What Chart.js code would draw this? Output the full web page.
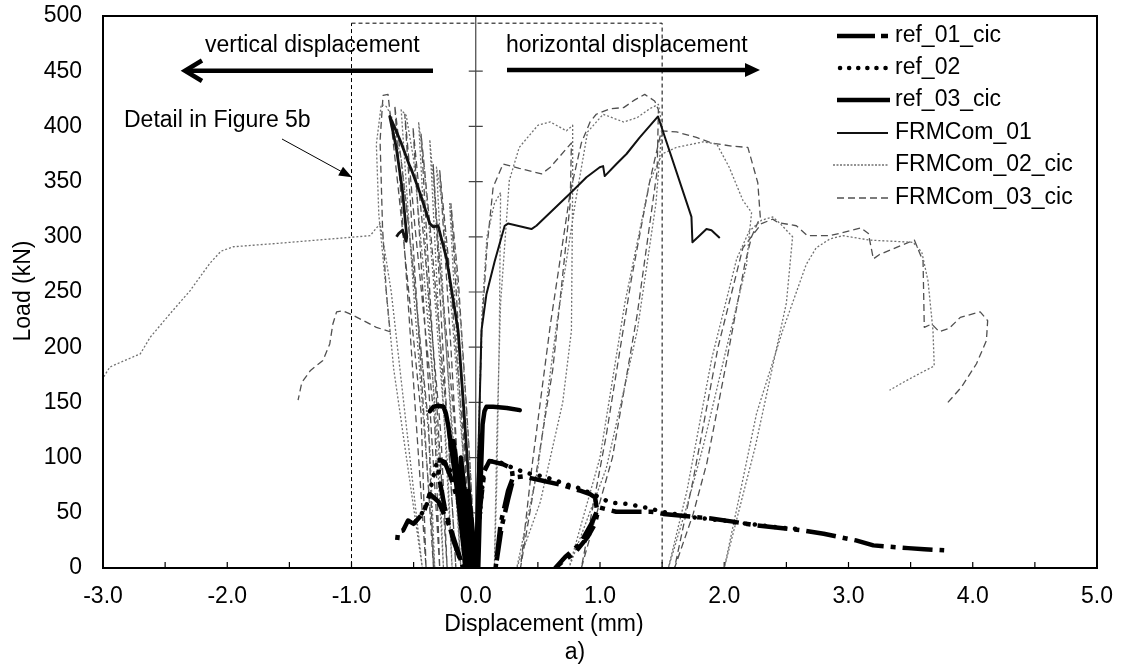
<!DOCTYPE html>
<html>
<head>
<meta charset="utf-8">
<script src="https://cdn.jsdelivr.net/npm/chart.js@4.4.1/dist/chart.umd.min.js"></script>
<style>
  html, body { margin: 0; padding: 0; background: #fff; }
  #wrap { width: 1121px; height: 668px; }
</style>
</head>
<body>
<div id="wrap"><canvas id="loadChart" width="1121" height="668"></canvas></div>
<script>
// tick labels
var xTickLabels = ['-3.0', '-2.0', '-1.0', '0.0', '1.0', '2.0', '3.0', '4.0', '5.0'];
var seriesNames = ['ref_01_cic', 'ref_02', 'ref_03_cic', 'FRMCom_01', 'FRMCom_02_cic', 'FRMCom_03_cic'];

// [displacement mm, load kN] -- vertical displacement is plotted negative
var ref01Vert = [[0,0],[-0.06,40],[-0.12,70],[-0.08,40],[-0.03,0],[-0.1,45],[-0.2,82],[-0.25,96],[-0.29,98],[-0.3,85],[-0.25,55],[-0.18,25],[-0.1,0],[-0.2,35],[-0.3,60],[-0.37,67],[-0.42,50],[-0.5,40],[-0.545,43],[-0.585,34],[-0.625,33],[-0.638,19]];
var ref01Horiz = [[0,0],[0.03,50],[0.07,88],[0.11,97],[0.22,94],[0.29,90],[0.3,80],[0.26,62],[0.21,38],[0.16,0],[0.2,40],[0.26,70],[0.3,82],[0.38,83],[0.54,79],[0.7,75],[0.84,70],[0.92,67],[0.96,64],[0.98,50],[0.96,40],[0.9,28],[0.8,14],[0.7,6],[0.64,0],[0.72,10],[0.84,22],[0.93,40],[0.99,55],[1.13,51],[1.41,51],[1.51,49],[1.88,45],[2.07,42],[2.23,39],[2.63,34],[2.8,31],[3.06,25],[3.2,20.5],[3.48,18],[3.61,17],[3.77,16]];

var ref02Vert = [[0,0],[-0.08,40],[-0.16,75],[-0.22,92],[-0.29,97],[-0.316,94],[-0.343,82],[-0.356,76],[-0.37,67],[-0.384,60],[-0.424,51],[-0.464,45],[-0.5,40]];
var ref02Horiz = [[0,0],[0.03,45],[0.06,82],[0.09,95],[0.11,97],[0.22,95],[0.29,91],[0.41,86],[0.5,84],[0.6,81],[0.7,77],[0.84,72],[0.96,66],[1.03,62],[1.1,59],[1.22,58],[1.31,56],[1.4,54],[1.5,51],[1.6,49],[1.75,46],[1.9,44],[2.0,43],[2.1,41],[2.2,40],[2.35,38],[2.5,36],[2.65,35]];

var ref03Vert = [[0,0],[-0.03,40],[-0.06,70],[-0.04,35],[-0.02,0],[-0.07,50],[-0.12,100],[-0.09,50],[-0.05,0],[-0.11,60],[-0.18,115],[-0.14,60],[-0.08,0],[-0.15,70],[-0.22,128],[-0.24,140],[-0.26,146],[-0.3,147],[-0.34,146],[-0.37,142]];
var ref03Horiz = [[0,0],[0.02,60],[0.035,110],[0.025,60],[0.01,0],[0.03,70],[0.045,120],[0.035,70],[0.02,0],[0.04,80],[0.055,130],[0.07,142],[0.086,146],[0.14,146],[0.25,145],[0.354,143]];

var frm01Vert = [[0,0],[-0.03,40],[-0.06,85],[-0.1,150],[-0.142,215],[-0.236,281],[-0.303,310],[-0.343,309],[-0.37,312],[-0.45,340],[-0.518,361],[-0.531,364],[-0.6,385],[-0.652,399],[-0.692,409],[-0.64,381],[-0.59,342],[-0.555,300],[-0.56,296],[-0.59,306],[-0.62,303],[-0.638,300]];
var frm01Horiz = [[0,0],[0.01,50],[0.025,120],[0.046,215],[0.086,248],[0.153,278],[0.233,310],[0.26,312],[0.448,307],[0.488,310],[0.757,339],[0.891,354],[0.998,363],[1.025,364],[1.038,355],[1.132,366],[1.213,375],[1.32,390],[1.467,409],[1.736,318],[1.744,295],[1.8,301],[1.857,307],[1.897,306],[1.964,299]];

var frm02Vert = [[0,0],[-0.05,100],[-0.12,220],[-0.18,300],[-0.21,330],[-0.14,180],[-0.05,0],
  [-0.1,100],[-0.2,240],[-0.27,330],[-0.316,363],[-0.25,220],[-0.12,0],
  [-0.17,100],[-0.28,260],[-0.34,350],[-0.37,388],[-0.3,230],[-0.19,0],
  [-0.23,100],[-0.34,260],[-0.42,370],[-0.46,404],[-0.38,240],[-0.26,0],
  [-0.3,110],[-0.42,270],[-0.5,370],[-0.56,410],[-0.6,415],[-0.5,250],[-0.33,0],
  [-0.37,110],[-0.5,270],[-0.6,370],[-0.68,410],[-0.72,418],[-0.76,420],[-0.8,384],[-0.78,320],[-0.66,180],[-0.43,0],
  [-0.55,120],[-0.68,250],[-0.75,300],[-0.77,312],[-0.85,301],[-1.28,297],[-1.6,294],[-1.95,291],[-2.05,287],[-2.14,276],[-2.3,251],[-2.44,233],[-2.62,209],[-2.7,194],[-2.865,186],[-2.945,182],[-3.05,163]];
var frm02Horiz = [[0,0],[0.02,110],[0.05,230],[0.09,300],[0.15,330],[0.2,340],[0.19,215],[0.17,80],[0.15,0],
  [0.17,120],[0.2,240],[0.27,351],[0.35,381],[0.5,401],[0.6,404],[0.73,396],[0.78,401],[0.78,351],[0.77,215],[0.7,150],[0.52,60],[0.33,0],
  [0.5,90],[0.65,220],[0.8,330],[0.9,395],[1.025,411],[1.19,404],[1.3,408],[1.4,416],[1.47,420],[1.5,400],[1.45,330],[1.3,215],[1.05,90],[0.75,0],
  [1.0,100],[1.2,240],[1.4,350],[1.5,375],[1.615,381],[1.83,386],[1.94,384],[2.04,363],[2.15,333],[2.22,322],[2.2,300],[2.18,275],[2.02,200],[1.83,110],[1.72,64],[1.55,0],
  [1.7,70],[1.9,190],[2.1,280],[2.2,305],[2.3,315],[2.39,318],[2.45,312],[2.55,300],[2.5,240],[2.25,110],[2.0,0],
  [2.12,64],[2.26,140],[2.47,215],[2.66,275],[2.74,290],[2.85,298],[2.956,301],[3.17,297],[3.52,295],[3.59,286],[3.64,260],[3.68,215],[3.69,183],[3.57,176],[3.47,170],[3.33,161]];

var frm03Vert = [[0,0],[-0.06,120],[-0.14,260],[-0.2,330],[-0.12,180],[-0.04,0],
  [-0.1,120],[-0.22,280],[-0.29,360],[-0.2,200],[-0.1,0],
  [-0.17,130],[-0.3,290],[-0.343,366],[-0.27,210],[-0.16,0],
  [-0.22,120],[-0.36,300],[-0.44,393],[-0.36,230],[-0.23,0],
  [-0.28,120],[-0.42,300],[-0.505,399],[-0.42,240],[-0.29,0],
  [-0.33,130],[-0.49,310],[-0.571,411],[-0.48,250],[-0.34,0],
  [-0.38,130],[-0.55,320],[-0.652,419],[-0.55,250],[-0.4,0],
  [-0.44,140],[-0.62,340],[-0.706,429],[-0.746,428],[-0.77,387],[-0.75,308],[-0.72,250],[-0.69,214],[-0.8,218],[-0.99,229],[-1.07,233],[-1.12,232],[-1.15,221],[-1.175,203],[-1.23,188],[-1.33,179],[-1.4,168],[-1.43,152]];
var frm03Horiz = [[0,0],[0.02,100],[0.05,220],[0.09,290],[0.14,345],[0.22,366],[0.35,362],[0.53,357],[0.6,363],[0.77,385],[0.76,330],[0.62,180],[0.45,60],[0.36,0],
  [0.45,90],[0.6,220],[0.76,340],[0.85,385],[0.92,404],[0.97,411],[1.08,416],[1.19,417],[1.28,424],[1.36,429],[1.44,423],[1.47,415],[1.46,360],[1.3,230],[1.1,100],[0.85,0],
  [1.05,120],[1.25,260],[1.4,350],[1.494,396],[1.615,395],[1.776,390],[1.897,385],[2.07,382],[2.19,381],[2.27,349],[2.29,318],[2.22,300],[2.165,275],[1.99,170],[1.86,95],[1.75,49],[1.6,0],
  [1.75,80],[1.95,200],[2.15,290],[2.3,312],[2.39,316],[2.43,313],[2.58,310],[2.67,301],[2.85,301],[3.1,308],[3.16,303],[3.2,280],[3.25,284],[3.53,297],[3.6,278],[3.61,218],[3.67,221],[3.73,214],[3.81,217],[3.9,227],[4.06,232],[4.12,224],[4.11,206],[4.03,185],[3.91,164],[3.8,150]];

var FONT = "'Liberation Sans', Arial, sans-serif";
Chart.defaults.font.family = FONT;
Chart.defaults.color = '#000';

// line look for each series (same order as seriesNames); vertWidth is for the negative branch
var styles = [
  { color: '#000', width: 4.5, vertWidth: 4.5, dash: [30, 7, 5, 7], cap: 'butt' },
  { color: '#000', width: 4.5, vertWidth: 4.5, dash: [0.1, 10], cap: 'round' },
  { color: '#000', width: 4.5, vertWidth: 4.5, dash: [], cap: 'round' },
  { color: '#111', width: 2, vertWidth: 2.8, dash: [], cap: 'butt' },
  { color: '#707070', width: 1.3, vertWidth: 1.3, dash: [2, 2], cap: 'butt' },
  { color: '#505050', width: 1.3, vertWidth: 1.3, dash: [7, 4], cap: 'butt' }
];
var branches = [
  [ref01Vert, ref01Horiz],
  [ref02Vert, ref02Horiz],
  [ref03Vert, ref03Horiz],
  [frm01Vert, frm01Horiz],
  [frm02Vert, frm02Horiz],
  [frm03Vert, frm03Horiz]
];

var datasets = [];
for (var s = 0; s < seriesNames.length; s++) {
  for (var b = 0; b < 2; b++) {
    datasets.push({
      label: seriesNames[s],
      data: branches[s][b],
      borderColor: styles[s].color,
      borderWidth: b === 0 ? styles[s].vertWidth : styles[s].width,
      borderDash: styles[s].dash,
      borderCapStyle: styles[s].cap,
      borderJoinStyle: 'round',
      pointRadius: 0,
      fill: false,
      tension: 0
    });
  }
}

function arrowHead(ctx, x1, y1, x2, y2, len, half) {
  var ang = Math.atan2(y2 - y1, x2 - x1);
  ctx.beginPath();
  ctx.moveTo(x2, y2);
  ctx.lineTo(x2 - len * Math.cos(ang) + half * Math.sin(ang), y2 - len * Math.sin(ang) - half * Math.cos(ang));
  ctx.lineTo(x2 - len * Math.cos(ang) - half * Math.sin(ang), y2 - len * Math.sin(ang) + half * Math.cos(ang));
  ctx.closePath();
  ctx.fill();
}

var decorations = {
  id: 'decorations',
  beforeDatasetsDraw: function(chart) {
    var ctx = chart.ctx, a = chart.chartArea, xs = chart.scales.x, ys = chart.scales.y;
    ctx.save();
    // vertical axis crossing at 0
    var x0 = xs.getPixelForValue(0);
    ctx.strokeStyle = '#444';
    ctx.lineWidth = 1.2;
    ctx.beginPath();
    ctx.moveTo(x0, a.top); ctx.lineTo(x0, a.bottom);
    for (var v = 50; v < 500; v += 50) {
      var py = ys.getPixelForValue(v);
      ctx.moveTo(x0 - 7, py); ctx.lineTo(x0 + 7, py);
    }
    ctx.stroke();
    // small ticks on the x axis, inside
    ctx.strokeStyle = '#000';
    ctx.beginPath();
    for (var t = -2.5; t < 5; t += 0.5) {
      var px = xs.getPixelForValue(t);
      ctx.moveTo(px, a.bottom); ctx.lineTo(px, a.bottom - 6);
    }
    ctx.stroke();
    // dashed box of the detail
    ctx.setLineDash([4, 3]);
    ctx.lineWidth = 1;
    var bx1 = xs.getPixelForValue(-1), bx2 = xs.getPixelForValue(1.5), by = ys.getPixelForValue(493.5);
    ctx.strokeRect(bx1, by, bx2 - bx1, a.bottom - by);
    ctx.restore();
  },
  afterDraw: function(chart) {
    var ctx = chart.ctx, a = chart.chartArea;
    ctx.save();
    ctx.strokeStyle = '#000';
    ctx.lineWidth = 2;
    ctx.strokeRect(a.left, a.top, a.right - a.left, a.bottom - a.top);

    ctx.fillStyle = '#000';
    ctx.font = '23px ' + FONT;
    ctx.textBaseline = 'middle';
    ctx.textAlign = 'left';
    ctx.fillText('vertical displacement', 205, 46);
    ctx.fillText('horizontal displacement', 506, 46);
    ctx.fillText('Detail in Figure 5b', 124, 121);
    ctx.textAlign = 'center';
    ctx.fillText('Displacement (mm)', 544, 625);
    ctx.fillText('a)', 575, 653);
    ctx.save();
    ctx.translate(24, 291);
    ctx.rotate(-Math.PI / 2);
    ctx.fillText('Load (kN)', 0, 0);
    ctx.restore();

    // big arrows
    ctx.lineWidth = 4.5;
    ctx.lineCap = 'butt';
    ctx.beginPath();
    ctx.moveTo(433, 70.7); ctx.lineTo(186, 70.7);
    ctx.stroke();
    ctx.lineJoin = 'miter';
    ctx.beginPath();
    ctx.moveTo(202, 60.5); ctx.lineTo(185, 70.7); ctx.lineTo(202, 81);
    ctx.stroke();
    ctx.beginPath();
    ctx.moveTo(507, 70); ctx.lineTo(746, 70);
    ctx.stroke();
    arrowHead(ctx, 740, 70, 760, 70, 15, 7);

    // detail pointer
    ctx.lineWidth = 1;
    ctx.beginPath();
    ctx.moveTo(282, 139); ctx.lineTo(345, 173.5);
    ctx.stroke();
    arrowHead(ctx, 282, 139, 352, 177.3, 13, 5);

    // legend
    var rows = [36, 68, 100, 133, 165, 198];
    for (var i = 0; i < seriesNames.length; i++) {
      var st = styles[i], y = rows[i];
      ctx.save();
      ctx.strokeStyle = st.color;
      ctx.lineWidth = i === 3 ? 2.2 : st.width;
      ctx.lineCap = st.cap;
      var x1 = 837, x2 = 888;
      if (i === 0) { ctx.setLineDash([38, 6, 7, 60]); }
      else if (i === 1) { ctx.setLineDash([0.1, 9]); x1 = 840; x2 = 886; }
      else if (i === 4) { ctx.setLineDash([2, 1.5]); x1 = 833; }
      else if (i === 5) { ctx.setLineDash([7, 4]); }
      else { ctx.setLineDash([]); ctx.lineCap = 'butt'; if (i === 2) { x2 = 890; } }
      ctx.beginPath();
      ctx.moveTo(x1, y); ctx.lineTo(x2, y);
      ctx.stroke();
      ctx.restore();
      ctx.textAlign = 'left';
      ctx.fillText(seriesNames[i], 895, y);
    }
    ctx.restore();
  }
};

new Chart(document.getElementById('loadChart'), {
  type: 'line',
  data: { datasets: datasets },
  options: {
    responsive: false,
    animation: false,
    devicePixelRatio: 1,
    layout: { padding: { left: 0, top: 16, right: 24, bottom: 0 } },
    plugins: { legend: { display: false }, tooltip: { enabled: false } },
    scales: {
      x: {
        type: 'linear', min: -3, max: 5,
        grid: { display: false, drawTicks: true, tickLength: 15 },
        border: { display: true, color: '#000', width: 2 },
        ticks: {
          stepSize: 1, padding: 0, color: '#000', font: { size: 23 },
          maxRotation: 0, autoSkip: false,
          callback: function(v) { return xTickLabels[Math.round(v) + 3]; }
        },
        afterFit: function(scale) { scale.height = 100; }
      },
      y: {
        type: 'linear', min: 0, max: 500,
        grid: { display: false, drawTicks: true, tickLength: 21 },
        border: { display: true, color: '#000', width: 2 },
        ticks: { stepSize: 50, padding: 0, color: '#000', font: { size: 23 } },
        afterFit: function(scale) { scale.width = 103; }
      }
    }
  },
  plugins: [decorations]
});
</script>
</body>
</html>
